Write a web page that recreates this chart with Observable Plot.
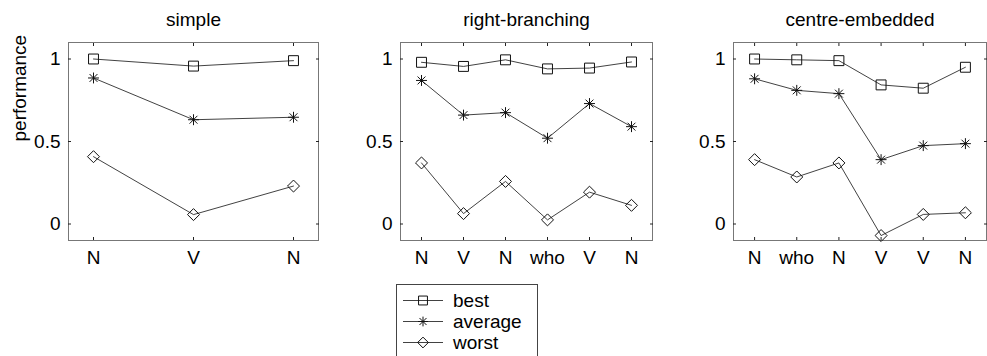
<!DOCTYPE html>
<html><head><meta charset="utf-8">
<script src="https://cdn.jsdelivr.net/npm/d3@7"></script>
<script src="https://cdn.jsdelivr.net/npm/@observablehq/plot@0.6"></script>
<style>
body{margin:0;background:#fff;}
#chart{position:relative;width:987px;height:356px;overflow:hidden;background:#fff;font-family:"Liberation Sans",Arial,sans-serif;}
.panel{position:absolute;top:0;}
#legend{position:absolute;left:396px;top:284px;width:140px;height:90px;border:1px solid #444;background:#fff;}
</style></head><body><div id="chart"></div>
<script>
// ---- data ----
const seriesNames = ["best", "average", "worst"];
const yTicks = [0, 0.5, 1];
const yTickLabels = ["0", "0.5", "1"];

const simpleTitle = "simple";
const simpleCats = ["N", "V", "N"];
const simpleBest = [1.0, 0.957, 0.99];
const simpleAverage = [0.885, 0.632, 0.647];
const simpleWorst = [0.408, 0.057, 0.23];

const rbTitle = "right-branching";
const rbCats = ["N", "V", "N", "who", "V", "N"];
const rbBest = [0.98, 0.955, 0.995, 0.94, 0.945, 0.982];
const rbAverage = [0.87, 0.66, 0.675, 0.52, 0.73, 0.59];
const rbWorst = [0.37, 0.063, 0.258, 0.025, 0.193, 0.113];

const ceTitle = "centre-embedded";
const ceCats = ["N", "who", "N", "V", "V", "N"];
const ceBest = [1.0, 0.995, 0.99, 0.843, 0.823, 0.95];
const ceAverage = [0.88, 0.81, 0.79, 0.39, 0.475, 0.487];
const ceWorst = [0.39, 0.285, 0.37, -0.07, 0.058, 0.068];

// ---- symbols ----
const asterisk8 = {
  draw(ctx, size) {
    const r = Math.sqrt(size) * 0.55, d = r * 0.72;
    ctx.moveTo(-r, 0); ctx.lineTo(r, 0);
    ctx.moveTo(0, -r); ctx.lineTo(0, r);
    ctx.moveTo(-d, -d); ctx.lineTo(d, d);
    ctx.moveTo(-d, d); ctx.lineTo(d, -d);
  }
};
const symbolOf = {best: "square", average: asterisk8, worst: "diamond2"};
const rOf = {best: 5.6, average: 5.6, worst: 5.4};

const FONT = 19;
const chart = document.getElementById("chart");

function panel({title, cats, best, average, worst, left, width, mL, mR, yLabel}) {
  const idx = cats.map((_, i) => i + 1);
  const vals = {best, average, worst};
  const rows = [];
  for (const s of seriesNames) vals[s].forEach((v, i) => rows.push({series: s, x: i + 1, y: v}));
  const n = cats.length;
  const xDomain = n === 3 ? [0.75, 3.25] : [0.5, n + 0.5];
  const marks = [
    Plot.frame({stroke: "#777"}),
    Plot.axisX({ticks: idx, tickSize: 0, tickPadding: 10, tickFormat: i => cats[i - 1], fontSize: FONT, label: null}),
    Plot.axisX({ticks: idx, tickSize: -3, tickFormat: () => "", label: null, stroke: "#222"}),
    Plot.axisX({anchor: "top", ticks: idx, tickSize: -3, tickFormat: () => "", label: null, stroke: "#222"}),
    Plot.axisY({ticks: yTicks, tickSize: 0, tickPadding: 8, tickFormat: v => yTickLabels[yTicks.indexOf(v)], fontSize: FONT, label: null}),
    Plot.axisY({ticks: yTicks, tickSize: -3, tickFormat: () => "", label: null, stroke: "#222"}),
    Plot.axisY({anchor: "right", ticks: yTicks, tickSize: -3, tickFormat: () => "", label: null, stroke: "#222"}),
    Plot.line(rows, {x: "x", y: "y", z: "series", stroke: "#111", strokeWidth: 0.8}),
    ...seriesNames.map(s => Plot.dot(rows.filter(d => d.series === s), {x: "x", y: "y", symbol: symbolOf[s], r: rOf[s], stroke: "#111", strokeWidth: 1, fill: "none"})),
    Plot.text([title], {frameAnchor: "top", lineAnchor: "bottom", dy: -17, fontSize: FONT, fill: "#000"})
  ];
  if (yLabel) marks.push(Plot.text([yLabel], {frameAnchor: "left", rotate: -90, dx: -49, fontSize: FONT, fill: "#000"}));
  const p = Plot.plot({
    width, height: 280,
    marginLeft: mL, marginRight: mR, marginTop: 42, marginBottom: 40,
    x: {domain: xDomain, label: null},
    y: {domain: [-0.1, 1.1], label: null},
    style: {fontFamily: '"Liberation Sans", Arial, sans-serif', fontSize: FONT + "px", color: "#000", background: "transparent", overflow: "visible"},
    marks
  });
  p.classList.add("panel");
  p.style.left = left + "px";
  chart.appendChild(p);
}

panel({title: simpleTitle, cats: simpleCats, best: simpleBest, average: simpleAverage, worst: simpleWorst, left: 0, width: 330, mL: 68, mR: 12, yLabel: "performance"});
panel({title: rbTitle, cats: rbCats, best: rbBest, average: rbAverage, worst: rbWorst, left: 330, width: 330, mL: 70, mR: 8});
panel({title: ceTitle, cats: ceCats, best: ceBest, average: ceAverage, worst: ceWorst, left: 660, width: 327, mL: 73, mR: 1});

// ---- legend ----
const legend = document.createElement("div");
legend.id = "legend";
chart.appendChild(legend);
const lsvg = d3.select(legend).append("svg").attr("width", 140).attr("height", 90)
  .style("position", "absolute").style("left", "0px").style("top", "0px");
const symGen = {best: d3.symbolSquare, average: asterisk8, worst: d3.symbolDiamond2};
seriesNames.forEach((s, i) => {
  const cy = 15.5 + i * 21;
  const g = lsvg.append("g");
  g.append("line").attr("x1", 6).attr("x2", 46).attr("y1", cy).attr("y2", cy).attr("stroke", "#111").attr("stroke-width", 0.8);
  g.append("path").attr("d", d3.symbol(symGen[s], Math.PI * rOf[s] * rOf[s] * 0.8)()).attr("transform", `translate(26,${cy})`)
    .attr("fill", "none").attr("stroke", "#111");
  g.append("text").attr("x", 56).attr("y", cy).attr("dy", "0.35em").attr("font-size", FONT)
    .attr("font-family", '"Liberation Sans", Arial, sans-serif').text(s);
});
</script></body></html>
